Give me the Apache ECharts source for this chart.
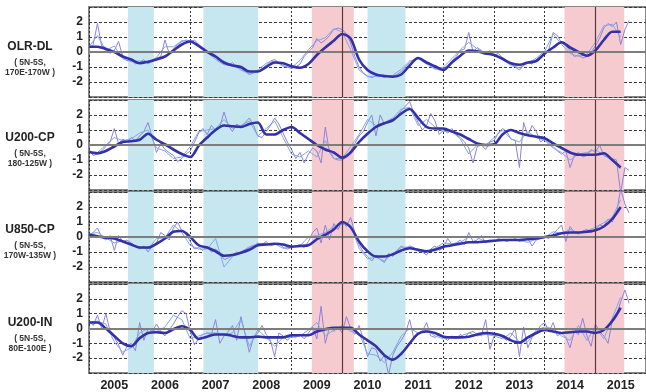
<!DOCTYPE html>
<html>
<head>
<meta charset="utf-8">
<script src="https://cdn.jsdelivr.net/npm/echarts@6/dist/echarts.min.js"></script>
<style>
  html, body { margin: 0; padding: 0; background: #fff; }
  #chart { width: 646px; height: 392px; }
</style>
</head>
<body>
<div id="chart"></div>
<script>
// monthly anomalies start Jan 2005, smoothed/blue series are every 2 months
const startYear = 2005;
const years = [2005, 2006, 2007, 2008, 2009, 2010, 2011, 2012, 2013, 2014, 2015];

const panelNames = ["OLR-DL", "U200-CP", "U850-CP", "U200-IN"];
const panelRegions = ["( 5N-5S,\n170E-170W )", "( 5N-5S,\n180-125W )", "( 5N-5S,\n170W-135W )", "( 5N-5S,\n80E-100E )"];

// OLR-DL
const olrMonthly = [
  0.2, 0.5, 1.9, 0.4, 0.3, -0.1, 0.1, 0.7, -0.3, -0.6, -0.5, -0.8,
  -0.7, -0.5, -0.8, -0.6, -0.4, -0.3, 0.8, -0.1, 0.2, 0.5, 0.7, 0.8,
  0.7, 0.8, 0.5, 0.3, 0.1, -0.1, -0.4, -0.6, -0.8, -0.9, -0.7, -1.0,
  -1.1, -1.3, -1.5, -1.4, -1.3, -1.1, -0.9, -0.6, -0.5, -0.7, -0.9, -1.0,
  -1.1, -1.0, -0.8, -0.3, 0.0, 0.3, 0.9, 0.6, 0.8, 1.1, 1.5, 1.6,
  1.5, 1.2, 0.6, -0.3, -1.0, -1.4, -1.6, -1.7, -1.6, -1.6, -1.7, -1.6,
  -1.6, -1.5, -1.3, -1.0, -0.7, -0.5, -0.4, -0.5, -0.7, -0.9, -1.1, -1.2,
  -1.1, -0.9, -0.6, -0.3, 0.1, 0.2, 1.3, 0.0, 0.3, 0.1, -0.2, 0.1,
  -0.2, -0.1, -0.4, -0.6, -0.8, -1.0, -1.2, -0.9, -0.7, -0.8, -0.5, -0.3,
  -0.1, 0.2, 1.3, 1.1, 0.6, 0.4, 0.1, -0.3, -0.2, -0.4, -0.3, 0.0,
  0.4, 0.9, 1.6, 1.9, 1.7, 2.0, 0.5, 1.5, 2.1
];
const olrBlue = [
  0.35, 1.1, 0.1, 0.4, -0.45, -0.65, -0.6, -0.7, -0.35, 0.35, 0.35, 0.75,
  0.75, 0.4, 0.0, -0.5, -0.85, -0.85, -1.2, -1.45, -1.2, -0.75, -0.6, -0.95,
  -1.05, -0.55, 0.15, 0.75, 0.95, 1.55, 1.35, 0.15, -1.2, -1.65, -1.6, -1.65,
  -1.55, -1.15, -0.6, -0.45, -0.8, -1.15, -1.0, -0.45, 0.15, 0.65, 0.2, -0.05,
  -0.15, -0.5, -0.9, -1.05, -0.75, -0.4, 0.05, 1.2, 0.5, -0.1, -0.3, -0.15,
  0.65, 1.75, 1.85, 1.0
];
const olrMean = [
  0.35, 0.35, 0.2, 0.0, -0.3, -0.5, -0.75, -0.65, -0.5, -0.3, 0.1, 0.5,
  0.7, 0.4, 0.0, -0.3, -0.7, -0.9, -1.0, -1.3, -1.3, -1.0, -0.7, -0.75,
  -0.95, -1.05, -0.8, -0.2, 0.3, 0.75, 1.2, 0.9, -0.5, -1.2, -1.5, -1.6,
  -1.65, -1.5, -0.9, -0.4, -0.7, -0.95, -1.2, -0.7, -0.25, 0.1, 0.05, -0.1,
  -0.2, -0.45, -0.75, -0.85, -0.7, -0.6, -0.1, 0.3, 0.65, 0.3, 0.0, -0.25,
  0.1, 0.8, 1.35, 1.35
];

// U200-CP
const u200cpMonthly = [
  -0.3, -0.7, -0.6, -0.4, -0.1, 0.2, 1.1, 0.1, 0.4, 0.2, 0.5, 0.3,
  0.6, 0.9, 1.5, 0.5, -0.5, 0.1, -0.3, -0.5, -0.7, -1.1, -0.9, -0.6,
  -0.4, 0.2, 0.8, 1.1, 0.7, 1.3, 1.0, 1.2, 2.2, 1.3, 0.9, 1.4,
  1.2, 1.5, 1.8, 1.3, 0.6, 0.5, 0.9, 1.3, 1.8, 1.4, 0.8, 0.2,
  -0.3, -0.9, -0.5, -1.2, -0.6, -0.2, -0.4, -1.2, 1.2, -0.5, -0.9, -1.0,
  -1.0, -0.8, -0.4, 0.1, 0.6, 0.9, 1.5, 2.0, 0.6, 2.0, 1.4, 1.6,
  1.7, 1.9, 2.3, 2.6, 2.9, 2.1, 1.5, 1.0, 1.3, 2.1, 1.6, 0.7,
  1.0, 0.8, 1.1, 0.7, 0.5, 0.2, -0.2, -1.2, -0.1, 0.0, -0.3, 0.2,
  0.3, 0.8, 1.1, 0.9, 0.4, 0.3, -1.5, 1.5, 0.6, 1.3, 0.9, 0.2,
  0.4, 0.1, -0.1, -0.4, -0.6, -0.4, -1.5, -0.7, -0.5, -0.8, -0.7, -0.3,
  -0.5, 0.0, -0.7, -0.8, -0.9, -1.0, -3.2, -1.5, -1.7
];
const u200cpBlue = [
  -0.5, -0.5, 0.0, 0.5, 0.3, 0.4, 0.8, 1.0, -0.2, -0.4, -0.9, -0.8,
  -0.1, 0.9, 1.0, 1.1, 1.7, 1.1, 1.3, 1.6, 0.6, 1.1, 1.6, 0.5,
  -0.6, -0.8, -0.4, -0.8, 0.3, -0.9, -0.9, -0.1, 0.7, 1.7, 1.3, 1.5,
  1.8, 2.4, 2.5, 1.3, 1.7, 1.2, 0.9, 0.9, 0.4, -0.6, 0.0, 0.0,
  0.5, 1.0, 0.4, 0.2, 0.9, 0.5, 0.3, -0.2, -0.5, -1.0, -0.6, -0.5,
  -0.3, -0.7, -1.0, -1.6
];
const u200cpMean = [
  -0.45, -0.55, -0.4, -0.1, 0.2, 0.25, 0.35, 0.75, 0.35, 0.05, -0.3, -0.6,
  -0.8, -0.05, 0.5, 1.0, 1.3, 1.25, 1.2, 1.4, 1.5, 0.7, 0.7, 1.0,
  1.2, 0.8, 0.4, 0.0, -0.3, -0.5, -0.85, -0.5, 0.2, 0.75, 1.2, 1.45,
  1.65, 2.1, 2.4, 1.8, 1.2, 1.1, 1.1, 0.9, 0.7, 0.4, 0.1, 0.0,
  0.05, 0.7, 1.0, 0.8, 0.65, 0.55, 0.45, 0.1, -0.2, -0.5, -0.65, -0.65,
  -0.65, -0.55, -1.0, -1.5
];

// U850-CP
const u850cpMonthly = [
  0.1, 0.3, 0.6, 0.0, -0.2, 0.1, -0.9, 0.1, -0.3, -0.2, -0.4, -0.6,
  -0.8, -0.6, -1.0, -0.6, -0.4, 0.3, 0.1, -0.2, 0.6, 1.0, 0.4, 0.2,
  -0.3, -0.8, -0.7, -0.9, -0.6, -1.0, -0.8, -1.1, -1.5, -1.4, -1.2, -1.0,
  -1.1, -0.9, -0.7, -0.6, -0.4, -0.5, -0.3, -0.6, -0.5, -0.4, -0.7, -0.8,
  -0.7, -0.6, -0.5, -0.7, -0.3, 0.3, 0.6, -0.4, 0.8, -0.2, 0.9, 0.5,
  1.0, 0.7, 1.3, 0.3, -0.5, -1.0, -1.3, -1.6, -1.2, -1.5, -1.7, -1.1,
  -1.3, -0.9, -0.6, -0.8, -0.6, -0.7, -0.9, -1.0, -1.2, -0.8, -0.6, -0.9,
  -0.7, -0.1, -0.5, -0.4, -0.2, -0.5, 0.3, -0.3, -0.2, 0.1, -0.4, -0.2,
  -0.3, -0.1, -0.2, -0.3, -0.2, -0.1, -0.3, -0.2, -0.1, -0.6, -0.2, -0.1,
  0.0, -0.1, 0.2, 0.5, 0.8, -0.3, 0.7, 0.3, 0.2, 0.4, 0.5, 0.3,
  0.5, 0.8, 0.7, 1.2, 1.0, 1.6, 3.2, 2.2, 1.6
];
const u850cpBlue = [
  0.2, 0.3, -0.05, -0.4, -0.25, -0.5, -0.7, -0.8, -0.1, -0.05, 0.8, 0.3,
  -0.55, -0.8, -0.8, -0.1, -2.0, -1.3, -1.0, -0.65, -0.45, -0.45, -0.45, -0.75,
  -0.65, -0.6, 0.0, 0.1, 0.3, 0.7, 0.85, 0.8, -0.75, -1.45, -1.35, -1.6,
  -1.1, -0.7, -0.65, -0.95, -1.0, -0.75, -0.4, -0.45, -0.35, 0.0, -0.05, -0.3,
  -0.2, -0.25, -0.15, -0.25, -0.35, -0.15, -0.05, 0.35, 0.25, 0.5, 0.3, 0.4,
  0.65, 0.95, 1.3, 2.5
];
const u850cpMean = [
  0.15, 0.05, -0.05, -0.1, -0.3, -0.5, -0.7, -0.7, -0.45, -0.1, 0.35, 0.4,
  0.0, -0.55, -0.7, -0.95, -1.25, -1.2, -1.05, -0.85, -0.55, -0.5, -0.45, -0.5,
  -0.65, -0.6, -0.55, -0.15, 0.15, 0.5, 1.0, 0.65, -0.3, -0.95, -1.3, -1.3,
  -1.15, -0.9, -0.75, -0.85, -0.95, -0.85, -0.65, -0.55, -0.45, -0.35, -0.35, -0.3,
  -0.25, -0.2, -0.2, -0.2, -0.15, -0.1, 0.0, 0.1, 0.25, 0.3, 0.3, 0.35,
  0.45, 0.7, 1.2, 2.0
];

// U200-IN
const u200inMonthly = [
  0.5, 0.2, 0.9, 0.0, 1.0, -0.2, -0.6, -1.1, -1.8, -1.2, -1.0, -1.5,
  0.4, -0.8, 0.0, -0.2, 0.3, -0.2, -0.5, -0.1, 0.3, 0.8, 1.2, 1.0,
  -0.2, -1.1, -0.7, -0.4, -0.3, -0.4, 0.6, -1.0, -0.5, -0.2, 0.2, -0.8,
  0.8, -0.4, -1.6, -0.6, -0.3, 0.2, -0.4, -0.8, -1.9, -0.3, -0.5, -0.8,
  -0.5, -0.6, -0.4, -0.7, -0.3, 0.1, -0.7, 1.5, -1.0, 0.1, -0.2, 0.1,
  -0.3, 0.8, 0.0, -0.4, 0.2, -0.7, -1.9, -1.3, -1.4, -2.2, -1.8, -3.1,
  -1.8, -1.2, -0.8, -0.3, 0.6, -0.7, -0.4, -0.2, 0.4, -0.5, -0.6, -0.4,
  -0.6, -0.8, -0.5, -0.7, -0.4, -0.6, -0.3, -0.2, -0.4, -0.5, 0.6, -1.4,
  -0.5, -0.4, -0.6, -0.8, -0.5, 0.0, -1.9, 0.1, -1.3, -0.6, -0.3, 0.2,
  0.4, -0.2, 0.4, -0.5, -0.3, -0.6, -1.3, -0.2, -0.4, 0.7, -0.5, -1.2,
  0.3, -0.2, -0.5, -1.0, 0.5, 0.9, 1.8, 2.6, 1.7
];
const u200inBlue = [
  0.4, 0.5, 0.3, -0.9, -1.6, -1.3, -0.3, 0.0, -0.2, 0.1, 0.9, 0.6,
  -0.7, -0.5, -0.3, -0.3, -0.4, -0.3, 0.6, -1.2, -0.1, -0.6, -1.2, -0.6,
  -0.6, -0.5, -0.1, 0.4, -0.5, -0.1, 0.2, -0.2, -0.3, -1.7, -1.8, -2.3,
  -1.6, -0.5, 0.0, -0.3, -0.1, -0.5, -0.7, -0.6, -0.5, -0.3, -0.5, -0.4,
  -0.5, -0.7, -0.3, -0.9, -0.9, -0.1, 0.1, 0.0, -0.5, -0.8, 0.2, -0.8,
  0.1, -0.7, 0.7, 2.1
];
const u200inMean = [
  0.4, 0.4, 0.0, -0.5, -1.0, -1.2, -0.65, -0.3, -0.25, -0.3, -0.05, 0.15,
  -0.1, -0.7, -0.55, -0.4, -0.4, -0.5, -0.6, -0.6, -0.55, -0.6, -0.6, -0.6,
  -0.45, -0.45, -0.45, -0.2, -0.05, 0.05, 0.05, 0.05, -0.4, -0.8, -1.2, -1.8,
  -2.1, -1.7, -1.0, -0.35, -0.2, -0.3, -0.55, -0.6, -0.6, -0.55, -0.4, -0.3,
  -0.35, -0.5, -0.8, -0.95, -0.6, -0.3, -0.1, -0.2, -0.3, -0.25, -0.2, -0.2,
  -0.3, -0.1, 0.5, 1.4
];

// shaded periods (decimal years)
const laNinaBands = [[2005.77, 2006.28], [2007.26, 2008.34], [2010.5, 2011.25]];
const elNinoBands = [[2009.4, 2010.23], [2014.39, 2015.57]];
const strongYearLines = [2010, 2015];

const panelMonthly = [olrMonthly, u200cpMonthly, u850cpMonthly, u200inMonthly];
const panelBlue = [olrBlue, u200cpBlue, u850cpBlue, u200inBlue];
const panelMean = [olrMean, u200cpMean, u850cpMean, u200inMean];

const gridTops = [7, 100, 192, 284];
const titleTops = [41, 132, 224, 317];

const monthly = (arr) => arr.map((v, i) => [startYear + i / 12, v]);
const bimonthly = (arr) => arr.map((v, i) => [startYear + i / 6, v]);

const chart = echarts.init(document.getElementById("chart"));

const grid = [];
const xAxis = [];
const yAxis = [];
const series = [];
const title = [];

panelNames.forEach((name, p) => {
  const isLast = p === panelNames.length - 1;
  grid.push({
    left: 89,
    top: gridTops[p],
    width: 560,
    height: 90,
    show: true,
    borderColor: "#858585",
    borderWidth: 2,
    backgroundColor: "transparent",
  });
  xAxis.push({
    type: "value",
    gridIndex: p,
    min: 2005,
    max: 2016,
    interval: 1,
    axisLine: { show: false },
    axisTick: { show: false },
    axisLabel: {
      show: isLast,
      customValues: years.map((y) => y + 0.5),
      formatter: (v) => String(Math.floor(v)),
      fontFamily: "Liberation Sans",
      fontWeight: "bold",
      fontSize: 12.5,
      color: "#222",
      margin: 6,
    },
    splitLine: { show: true, lineStyle: { color: "#333", type: [2, 2], width: 1 } },
  });
  yAxis.push({
    type: "value",
    gridIndex: p,
    min: -3,
    max: 3,
    interval: 1,
    axisLine: { show: false },
    axisTick: { show: false },
    axisLabel: {
      formatter: (v) => (Math.abs(v) > 2 ? "" : String(v)),
      fontFamily: "Liberation Sans",
      fontWeight: "bold",
      fontSize: 12,
      color: "#222",
      margin: 6,
    },
    splitLine: { show: true, lineStyle: { color: "#3a3a3a", type: [3, 2], width: 1 } },
  });

  // background bands + solid reference lines
  series.push({
    type: "line",
    xAxisIndex: p,
    yAxisIndex: p,
    data: [],
    z: -1,
    silent: true,
    markArea: {
      silent: true,
      data: laNinaBands
        .map((b) => [{ xAxis: b[0], itemStyle: { color: "#c6e7ef" } }, { xAxis: b[1] }])
        .concat(elNinoBands.map((b) => [{ xAxis: b[0], itemStyle: { color: "#f6cbcf" } }, { xAxis: b[1] }])),
    },
  });
  series.push({
    type: "line",
    xAxisIndex: p,
    yAxisIndex: p,
    data: [],
    z: 1,
    silent: true,
    markLine: {
      silent: true,
      symbol: "none",
      label: { show: false },
      data: [{ yAxis: 0, lineStyle: { color: "#7d7d7d", width: 2, type: "solid" } }].concat(
        strongYearLines.map((y) => ({ xAxis: y, lineStyle: { color: "#5a3a3a", width: 1.2, type: "solid" } }))
      ),
    },
  });

  series.push({
    name: name + " monthly",
    type: "line",
    xAxisIndex: p,
    yAxisIndex: p,
    data: monthly(panelMonthly[p]),
    showSymbol: false,
    lineStyle: { color: "#8f82da", width: 1 },
    z: 3,
  });
  series.push({
    name: name + " blue",
    type: "line",
    xAxisIndex: p,
    yAxisIndex: p,
    data: bimonthly(panelBlue[p]),
    showSymbol: false,
    lineStyle: { color: "#80a8e8", width: 1 },
    z: 3,
  });
  series.push({
    name: name + " mean",
    type: "line",
    xAxisIndex: p,
    yAxisIndex: p,
    data: bimonthly(panelMean[p]),
    showSymbol: false,
    smooth: 0.3,
    lineStyle: { color: "#3330a8", width: 2.6 },
    z: 4,
  });

  title.push({
    text: name,
    subtext: panelRegions[p],
    left: 30,
    top: titleTops[p],
    textAlign: "center",
    padding: 0,
    itemGap: 5,
    textStyle: { fontFamily: "Liberation Sans", fontWeight: "bold", fontSize: 12, color: "#222" },
    subtextStyle: { fontFamily: "Liberation Sans", fontWeight: "bold", fontSize: 8.5, lineHeight: 10, color: "#333" },
  });
});

chart.setOption({
  animation: false,
  backgroundColor: "#fff",
  title: title,
  grid: grid,
  xAxis: xAxis,
  yAxis: yAxis,
  series: series,
});
</script>
</body>
</html>
